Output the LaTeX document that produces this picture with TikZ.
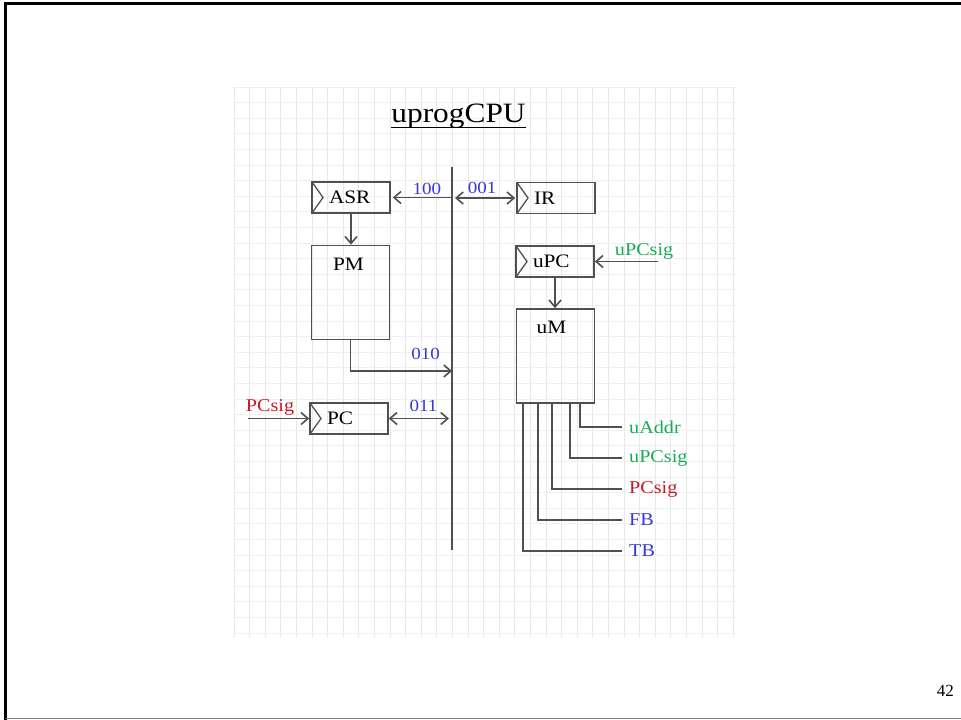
\documentclass[tikz,border=0pt]{standalone}
\usepackage{fontspec}
\setmainfont{Liberation Serif}[FakeStretch=1.12]
\newfontfamily\pagefont{Liberation Serif}
\usepackage{tikz}
\usetikzlibrary{arrows.meta}
\definecolor{sigblue}{RGB}{55,55,215}
\definecolor{siggreen}{RGB}{25,170,85}
\definecolor{sigred}{RGB}{200,25,35}
\definecolor{pencil}{RGB}{80,80,80}

\begin{document}
\begin{tikzpicture}[
    x=1pt, y=-1pt,
    font=\fontsize{19}{22}\selectfont,
    vgrid/.style={draw=gray!18, line width=0.8pt},
    hgrid/.style={draw=gray!12, line width=0.8pt},
    wire/.style={draw=pencil, line width=1.6pt},
    arr/.style={wire, -{Straight Barb[length=7pt,width=12pt]}},
    biarr/.style={wire, {Straight Barb[length=7pt,width=12pt]}-{Straight Barb[length=7pt,width=12pt]}},
    reg/.style={draw=pencil, line width=1.6pt, minimum height=31pt, text width=44pt, inner xsep=17pt, inner ysep=0pt, align=left,
      path picture={\draw[pencil, line width=1.3pt] (path picture bounding box.north west) -- ([xshift=11pt]path picture bounding box.west) -- (path picture bounding box.south west);}},
    mem/.style={draw=pencil, line width=1.6pt, minimum width=78pt, minimum height=94pt},
    memlbl/.style={anchor=north, inner sep=0pt, yshift=-13pt},
    code/.style={text=sigblue, font=\fontsize{17}{20}\selectfont, inner sep=1pt},
    sig/.style={font=\fontsize{18}{21}\selectfont, inner sep=1pt},
  ]
  \useasboundingbox (0,0) rectangle (961,720);
  % paper grid
  \foreach \i in {0,...,32}
    \draw[vgrid] (234+\i*15.6,87) -- (234+\i*15.6,637);
  \foreach \j in {0,...,35}
    \draw[hgrid] (233,87+\j*15.6) -- (737,87+\j*15.6);
  % slide frame
  \draw[line width=2.5pt] (5.5,720) -- (5.5,3.5) -- (961,3.5);
  \draw[gray, line width=1.5pt] (5.5,718.5) -- (961,718.5);

  \node[font=\fontsize{28}{32}\selectfont, inner sep=0pt, anchor=base] (title) at (458.5,122) {uprogCPU};
  \draw[line width=1.3pt] ([yshift=-5.5pt]title.base west) -- ([yshift=-5.5pt]title.base east);

  \node[reg] (asr) at (351,197.5) {ASR};
  \node[reg] (ir) at (556,198) {IR};
  \node[reg] (upc) at (555,261.5) {uPC};
  \node[reg] (pc) at (349,418.5) {PC};
  \node[mem] (pm) at (350.5,292.5) {};
  \node[mem] (um) at (555.5,356) {};
  \node[memlbl] (pmtext) at ([xshift=-2pt]pm.north) {PM};
  \node[memlbl] (umtext) at ([xshift=-4pt]um.north) {uM};

  \coordinate (bustop) at (452,167);
  \coordinate (busbot) at (452,550);
  \coordinate (pmout) at (452,371);
  \coordinate (pcsig) at (248,418.5);
  \coordinate (upcsig) at (658,261.5);
  \draw[wire] (bustop) -- (busbot);

  \draw[arr, shorten >=2pt] (asr.east -| bustop) -- (asr.east) node[code, above=1pt, pos=0.41] (c100) {100};
  \draw[biarr, shorten <=3pt, shorten >=1pt] (ir.west -| bustop) -- (ir.west) node[code, above=3pt, pos=0.47] (c001) {001};
  \draw[arr] (pm.south) |- (pmout) node[code, above=10pt, pos=0.87] (c010) {010};
  \draw[biarr, shorten >=3pt] (pc.east) -- (pc.east -| bustop) node[code, above=5pt, pos=0.55] (c011) {011};
  \draw[arr] (pcsig) -- (pc.west) node[sig, text=sigred, above=1pt, pos=0.36] (pcsigin) {PCsig};
  \draw[arr] (upcsig) -- (upc.east) node[sig, text=siggreen, above=0pt, pos=0.22] (upcsigin) {uPCsig};
  \draw[arr] (asr.south) -- (asr.south |- pm.north);
  \draw[arr] (upc.south) -- (upc.south |- um.north);

  \foreach \dx/\y/\lbl/\col in {64/427/uAddr/siggreen, 54/458/uPCsig/siggreen, 36/489/PCsig/sigred, 22/520/FB/sigblue, 7/551/TB/sigblue}{
    \node[sig, text=\col, anchor=west] (out\lbl) at (628,\y) {\lbl};
    \draw[wire] ([xshift=\dx pt]um.south west) |- ([xshift=-6pt]out\lbl.west);
  }

  \node[font=\pagefont\fontsize{17}{20}\selectfont, anchor=base east, inner sep=0pt] (pagenum) at (954,696) {42};
\end{tikzpicture}
\end{document}
